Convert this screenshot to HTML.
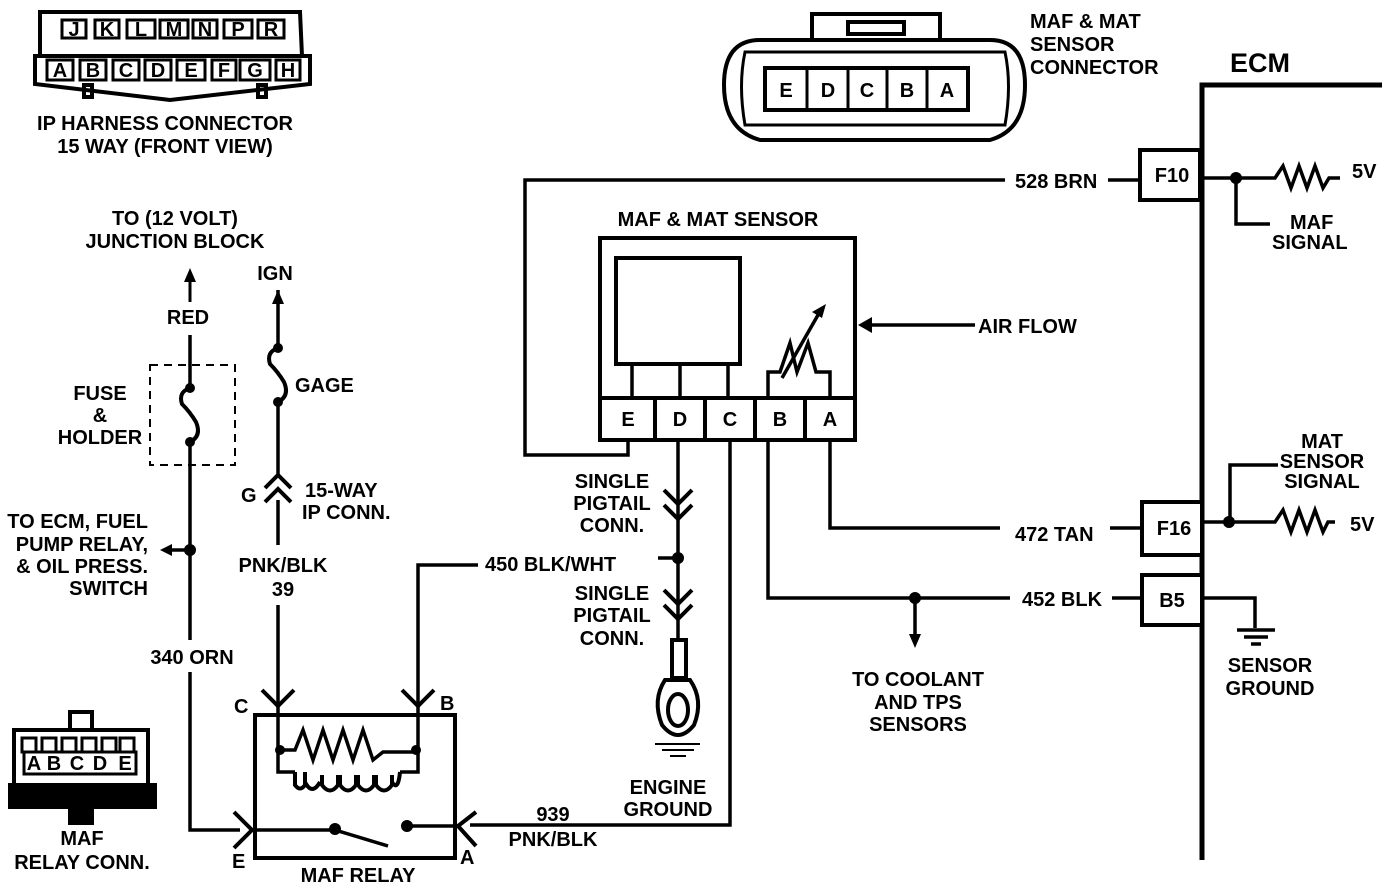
<!DOCTYPE html>
<html><head><style>
html,body{margin:0;padding:0;background:#fff;}
svg{display:block;}
text{font-family:"Liberation Sans",sans-serif;font-weight:bold;font-size:20px;fill:#000;}
</style></head><body>
<svg width="1392" height="884" viewBox="0 0 1392 884" xmlns="http://www.w3.org/2000/svg">
<g fill="none" stroke="#000" stroke-width="4">
<path d="M40 12 H300 L302 56 H40 Z"/>
<path d="M35 56 H310 V84 L170 100 L35 84 Z"/>
<rect x="84" y="85" width="8" height="12"/><rect x="258" y="85" width="8" height="12"/>
</g>
<g fill="none" stroke="#000" stroke-width="3">
<rect x="62" y="20" width="24" height="18"/><rect x="95" y="20" width="24" height="18"/><rect x="127" y="20" width="28" height="18"/><rect x="160" y="20" width="28" height="18"/><rect x="193" y="20" width="24" height="18"/><rect x="224" y="20" width="28" height="18"/><rect x="258" y="20" width="26" height="18"/>
<rect x="47" y="60" width="26" height="20"/><rect x="80" y="60" width="26" height="20"/><rect x="113" y="60" width="26" height="20"/><rect x="145" y="60" width="26" height="20"/><rect x="177" y="60" width="28" height="20"/><rect x="212" y="60" width="24" height="20"/><rect x="240" y="60" width="30" height="20"/><rect x="276" y="60" width="24" height="20"/>
</g>
<g style="font-size:16px" text-anchor="middle">
<text x="74" y="36">J</text><text x="107" y="36">K</text><text x="141" y="36">L</text><text x="174" y="36">M</text><text x="205" y="36">N</text><text x="238" y="36">P</text><text x="271" y="36">R</text>
<text x="60" y="77">A</text><text x="93" y="77">B</text><text x="126" y="77">C</text><text x="158" y="77">D</text><text x="191" y="77">E</text><text x="224" y="77">F</text><text x="255" y="77">G</text><text x="288" y="77">H</text>
</g>
<text x="165" y="130" text-anchor="middle">IP HARNESS CONNECTOR</text>
<text x="165" y="153" text-anchor="middle">15 WAY (FRONT VIEW)</text>

<g fill="none" stroke="#000" stroke-width="4">
<path d="M760 40 H990 Q1025 40 1025 85 Q1025 130 990 140 H760 Q724 130 724 85 Q724 40 760 40 Z"/>
<path d="M745 52 H1005 Q1012 85 1005 125 H745 Q738 85 745 52 Z" stroke-width="3"/>
<rect x="812" y="14" width="128" height="26"/>
<rect x="848" y="22" width="56" height="12"/>
<rect x="765" y="68" width="203" height="42"/>
<path d="M807 68V110M848 68V110M887 68V110M927 68V110" stroke-width="3"/>
</g>
<g text-anchor="middle"><text x="786" y="97">E</text><text x="828" y="97">D</text><text x="867" y="97">C</text><text x="907" y="97">B</text><text x="947" y="97">A</text></g>
<text x="1030" y="28">MAF &amp; MAT</text><text x="1030" y="51">SENSOR</text><text x="1030" y="74">CONNECTOR</text>

<text x="1230" y="72" style="font-size:27px">ECM</text>
<g fill="none" stroke="#000" stroke-width="5">
<path d="M1202 860 V85 H1382"/>
<rect x="1140" y="150" width="60" height="50" fill="#fff" stroke-width="4"/>
<rect x="1142" y="502" width="60" height="53" fill="#fff" stroke-width="4"/>
<rect x="1142" y="575" width="60" height="50" fill="#fff" stroke-width="4"/>
</g>
<text x="1172" y="182" text-anchor="middle">F10</text>
<text x="1174" y="535" text-anchor="middle">F16</text>
<text x="1172" y="607" text-anchor="middle">B5</text>

<g fill="none" stroke="#000" stroke-width="3.5">
<path d="M1140 180 H1108 M1005 180 H525 V455 H628 V440"/>
<path d="M1202 178 H1275 l8 -12 l8 22 l8 -22 l8 22 l8 -22 l8 22 l6 -10 H1340 M1236 178 V224 H1270"/>
<path d="M1202 522 H1275 l8 -12 l8 22 l8 -22 l8 22 l8 -22 l8 22 l5 -10 H1335 M1230 522 V465 H1278"/>
<path d="M1202 598 H1255 V628 M1237 630 H1275 M1244 637 H1268 M1251 644 H1261"/>
<rect x="600" y="238" width="255" height="202" stroke-width="4"/>
<rect x="616" y="258" width="124" height="106" stroke-width="4"/>
<path d="M632 364V398M680 364V398M728 364V398"/>
<path d="M600 398H855M655 398V440M705 398V440M755 398V440M805 398V440" stroke-width="4"/>
<path d="M768 398 V372 H780 L790 343 L797 372 L808 343 L816 372 H830 V398"/>
<path d="M782 378 L822 308"/>
<path d="M975 325 H868"/>
<path d="M678 440 V640"/>
<path d="M730 440 V825 H470"/>
<path d="M768 440 V598 H1010 M1112 598 H1142"/>
<path d="M915 598 V640"/>
<path d="M830 440 V528 H1000 M1110 528 H1142"/>
<path d="M678 558 H658 M478 565 H418 V705"/>
<path d="M190 335 V388 M190 442 V640 M190 672 V830 H240"/>
<path d="M190 550 H168"/>
<path d="M278 290 V348 M278 402 V475 M278 500 V545 M278 605 V705"/>
<rect x="255" y="715" width="200" height="143" stroke-width="4"/>
<path d="M278 705 V750 H295 l8 -20 l10 30 l10 -30 l10 30 l10 -30 l10 30 l10 -30 l10 30 l10 -8 H418 V705"/>
<path d="M278 750 V772 H295 M418 750 V772 H400"/>
<path d="M295 772 V785 Q300 792 305 785 V772 M305 782 Q312 796 320 782 M322 775 V785 Q330 796 338 785 V775 M340 775 V785 Q348 796 356 785 V775 M358 775 V785 Q366 796 374 785 V775 M376 775 V785 Q384 796 392 785 V775 M392 782 Q398 792 400 772" stroke-width="4"/>
<path d="M255 830 H335 L388 846 M408 826 H455"/>
</g>
<g fill="#000">
<circle cx="1236" cy="178" r="6"/><circle cx="1229" cy="522" r="6"/><circle cx="678" cy="558" r="6"/><circle cx="915" cy="598" r="6"/><circle cx="190" cy="550" r="6"/>
<circle cx="280" cy="750" r="5"/><circle cx="416" cy="750" r="5"/><circle cx="335" cy="829" r="6"/><circle cx="407" cy="826" r="6"/>
<path d="M858 325 L872 317 L872 333 Z"/>
<path d="M826 304 L812 312 L822 318 Z"/>
<path d="M190 268 L184 282 L196 282 Z"/>
<path d="M278 290 L272 304 L284 304 Z"/>
<path d="M160 550 L172 544 L172 556 Z"/>
<path d="M915 648 L909 634 L921 634 Z"/>
</g>
<path d="M190 282 V302" stroke="#000" stroke-width="3"/>
<g fill="none" stroke="#000" stroke-width="4">
<path d="M664 490 L678 504 L692 490 M664 505 L678 519 L692 505"/>
<path d="M664 590 L678 604 L692 590 M664 605 L678 619 L692 605"/>
<path d="M265 488 L278 475 L291 488 M265 502 L278 489 L291 502"/>
<path d="M262 690 L278 706 L294 690 M402 690 L418 706 L434 690"/>
<path d="M234 812 L252 830 L234 848 M476 812 L458 826 L476 846"/>
<path d="M190 388 Q178 392 182 404 Q190 412 196 422 Q202 436 190 442"/>
<path d="M278 348 Q266 352 270 364 Q278 372 284 382 Q290 396 278 402"/>
<circle cx="190" cy="388" r="3" fill="#000"/><circle cx="190" cy="442" r="3" fill="#000"/>
<circle cx="278" cy="348" r="3" fill="#000"/><circle cx="278" cy="402" r="3" fill="#000"/>
<rect x="150" y="365" width="85" height="100" stroke-width="2" stroke-dasharray="8,6"/>
<rect x="672" y="640" width="14" height="38"/>
<path d="M665 680 Q652 700 662 725 Q678 745 694 725 Q704 700 690 680 Z"/>
<ellipse cx="678" cy="710" rx="10" ry="16"/>
<path d="M655 744 H700 M662 750 H694 M670 756 H686" stroke-width="2"/>
<path d="M14 730 H148 V790 H14 Z"/>
<rect x="70" y="712" width="22" height="18"/>
<rect x="10" y="785" width="145" height="22" fill="#000"/>
<rect x="70" y="805" width="22" height="18" fill="#000"/>
</g>
<g fill="none" stroke="#000" stroke-width="3">
<rect x="22" y="738" width="14" height="14"/><rect x="42" y="738" width="14" height="14"/><rect x="62" y="738" width="14" height="14"/><rect x="82" y="738" width="14" height="14"/><rect x="102" y="738" width="14" height="14"/><rect x="120" y="738" width="14" height="14"/>
<rect x="24" y="752" width="112" height="22"/>
</g>
<g style="font-size:14px" text-anchor="middle"><text x="34" y="770">A</text><text x="54" y="770">B</text><text x="77" y="770">C</text><text x="100" y="770">D</text><text x="125" y="770">E</text></g>

<text x="1015" y="188">528 BRN</text>
<text x="1290" y="229">MAF</text><text x="1272" y="249">SIGNAL</text>
<text x="1352" y="178">5V</text>
<text x="1350" y="531">5V</text>
<text x="1322" y="448" text-anchor="middle">MAT</text><text x="1322" y="468" text-anchor="middle">SENSOR</text><text x="1322" y="488" text-anchor="middle">SIGNAL</text>
<text x="1015" y="541">472 TAN</text>
<text x="1022" y="606">452 BLK</text>
<text x="1270" y="672" text-anchor="middle">SENSOR</text><text x="1270" y="695" text-anchor="middle">GROUND</text>
<text x="918" y="686" text-anchor="middle">TO COOLANT</text><text x="918" y="709" text-anchor="middle">AND TPS</text><text x="918" y="731" text-anchor="middle">SENSORS</text>
<text x="718" y="226" text-anchor="middle">MAF &amp; MAT SENSOR</text>
<text x="978" y="333">AIR FLOW</text>
<text x="628" y="426" text-anchor="middle">E</text><text x="680" y="426" text-anchor="middle">D</text><text x="730" y="426" text-anchor="middle">C</text><text x="780" y="426" text-anchor="middle">B</text><text x="830" y="426" text-anchor="middle">A</text>
<text x="612" y="488" text-anchor="middle">SINGLE</text><text x="612" y="510" text-anchor="middle">PIGTAIL</text><text x="612" y="532" text-anchor="middle">CONN.</text>
<text x="612" y="600" text-anchor="middle">SINGLE</text><text x="612" y="622" text-anchor="middle">PIGTAIL</text><text x="612" y="645" text-anchor="middle">CONN.</text>
<text x="668" y="794" text-anchor="middle">ENGINE</text><text x="668" y="816" text-anchor="middle">GROUND</text>
<text x="485" y="571">450 BLK/WHT</text>
<text x="553" y="821" text-anchor="middle">939</text><text x="553" y="846" text-anchor="middle">PNK/BLK</text>
<text x="358" y="882" text-anchor="middle">MAF RELAY</text>
<text x="234" y="713">C</text><text x="440" y="710">B</text><text x="232" y="868">E</text><text x="460" y="864">A</text>
<text x="175" y="225" text-anchor="middle">TO (12 VOLT)</text><text x="175" y="248" text-anchor="middle">JUNCTION BLOCK</text>
<text x="188" y="324" text-anchor="middle">RED</text>
<text x="275" y="280" text-anchor="middle">IGN</text>
<text x="100" y="400" text-anchor="middle">FUSE</text><text x="100" y="422" text-anchor="middle">&amp;</text><text x="100" y="444" text-anchor="middle">HOLDER</text>
<text x="295" y="392">GAGE</text>
<text x="241" y="502">G</text>
<text x="305" y="497">15-WAY</text><text x="302" y="519">IP CONN.</text>
<text x="148" y="528" text-anchor="end">TO ECM, FUEL</text><text x="148" y="551" text-anchor="end">PUMP RELAY,</text><text x="148" y="573" text-anchor="end">&amp; OIL PRESS.</text><text x="148" y="595" text-anchor="end">SWITCH</text>
<text x="283" y="572" text-anchor="middle">PNK/BLK</text><text x="283" y="596" text-anchor="middle">39</text>
<text x="192" y="664" text-anchor="middle">340 ORN</text>
<text x="82" y="845" text-anchor="middle">MAF</text><text x="82" y="869" text-anchor="middle">RELAY CONN.</text>
</svg>
</body></html>
